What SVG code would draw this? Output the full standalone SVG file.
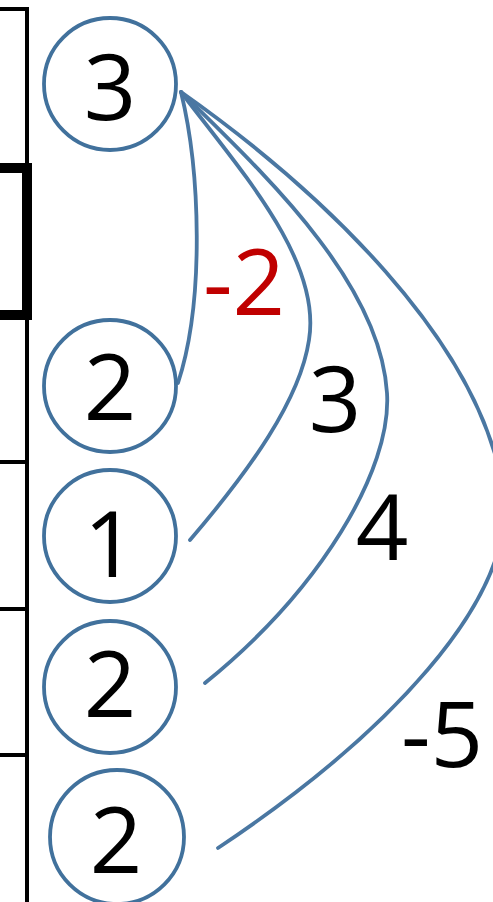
<svg xmlns="http://www.w3.org/2000/svg" width="493" height="902" viewBox="0 0 493 902">
<style>
.frame{fill:none;stroke:#000;stroke-width:4}
.thick{fill:none;stroke:#000;stroke-width:10}
.node circle{fill:#fff;stroke:#41719C;stroke-width:3.8}
.node text{font-family:"Open Sans","Liberation Sans",sans-serif;font-size:92px;fill:#000;text-anchor:middle}
.edge{fill:none;stroke:#4A77A2;stroke-width:3.8;stroke-linecap:round}
.lbl{font-family:"Open Sans","Liberation Sans",sans-serif;font-size:92px;fill:#000;text-anchor:middle}
.neg{fill:#C00000}
</style>
<rect width="493" height="902" fill="#fff"/>
<g id="frame">
<path class="frame" d="M0,9 H27 V902"/>
<path class="thick" d="M0,168 H27 V315 H0"/>
<path class="frame" d="M0,462 H27 M0,609 H27 M0,755 H27"/>
</g>
<g id="connectors">
<path class="edge" d="M181,92 C200,170 205,300 178,383"/>
<path class="edge" d="M181,92 C240,170 322,260 309,340 C300,400 250,470 190,540"/>
<path class="edge" d="M181,92 C260,170 380,280 387,393 C392,470 320,590 205,683"/>
<path class="edge" d="M181,92 C320,190 480,340 503,490 C520,600 380,740 218,848"/>
<text class="lbl neg" x="244" y="315">-2</text>
<text class="lbl" x="335" y="432">3</text>
<text class="lbl" x="382" y="560">4</text>
<text class="lbl" x="442" y="767">-5</text>
</g>
<g id="n1" class="node"><circle cx="110" cy="84" r="66"/><text x="110" y="120">3</text></g>
<g id="n2" class="node"><circle cx="110" cy="386" r="66"/><text x="110" y="420">2</text></g>
<g id="n3" class="node"><circle cx="110" cy="536" r="66"/><text x="110" y="577">1</text></g>
<g id="n4" class="node"><circle cx="110" cy="687" r="66"/><text x="110" y="717">2</text></g>
<g id="n5" class="node"><circle cx="117" cy="837" r="67"/><text x="116" y="873">2</text></g>
</svg>
